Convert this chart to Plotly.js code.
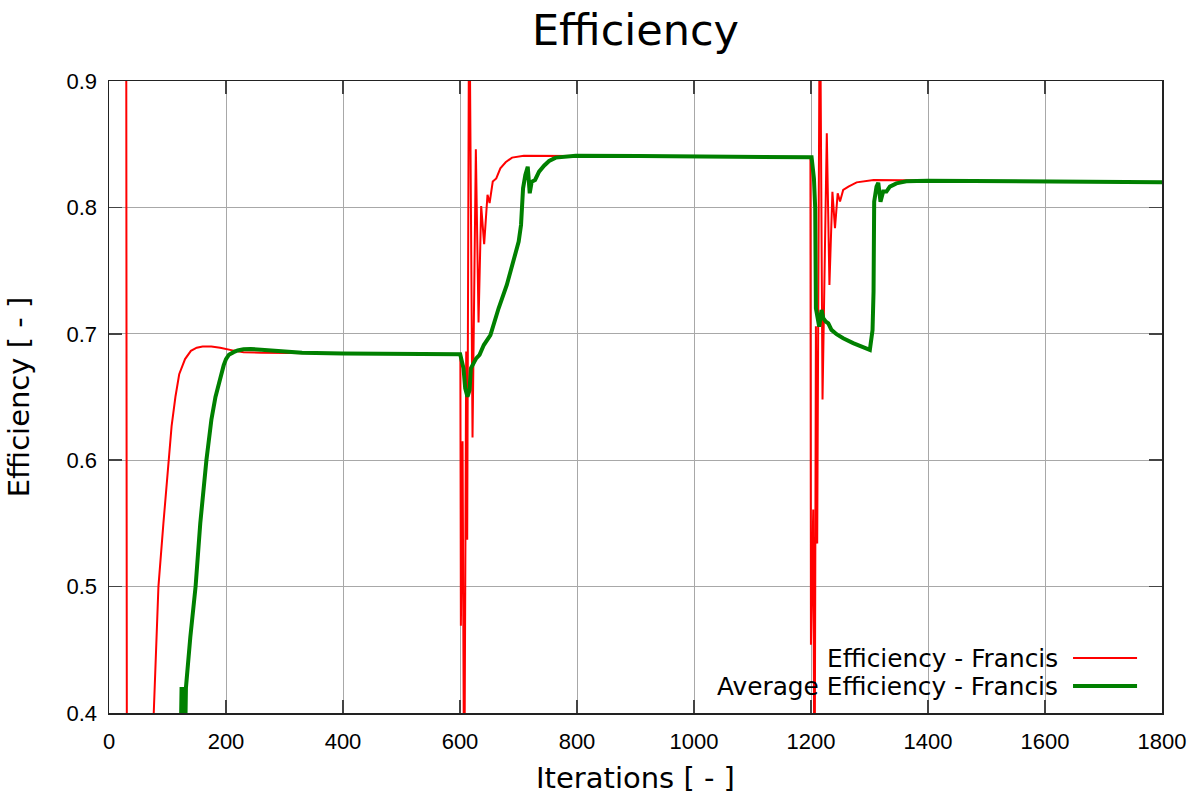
<!DOCTYPE html>
<html>
<head>
<meta charset="utf-8">
<script src="https://cdn.plot.ly/plotly-3.0.1.min.js"></script>
<style>html,body{margin:0;padding:0;background:#fff;}#chart{width:1200px;height:800px;}</style>
</head>
<body>
<div id="chart"></div>
<script>
// Efficiency - Francis (instantaneous)
const effIter = [1, 29, 31, 72, 76.5, 80, 84.5, 93, 102, 107, 113.5, 120, 130, 140, 150, 160, 175, 190, 213, 230, 260, 300, 400, 500, 600,
  600.6, 601.5, 604.4, 607.2, 610.6, 612.3, 615.7, 621.4, 627.1, 631.7, 636.2, 641.3, 647, 650.6, 656, 662, 669, 678, 689, 709, 766, 800, 900, 1000, 1100, 1199,
  1199.9, 1203.8, 1206.1, 1208.4, 1210.6, 1215.2, 1219.7, 1227, 1231.5, 1236.6, 1241, 1245.6, 1249.6, 1255, 1264, 1278, 1307, 1364, 1400, 1500, 1600, 1700, 1800];
const effVal = [1.2, 1.2, 0.1, 0.35, 0.4, 0.44, 0.5, 0.55, 0.6, 0.627, 0.65, 0.668, 0.68, 0.6865, 0.689, 0.69, 0.69, 0.689, 0.6867, 0.6855, 0.685, 0.685, 0.6845, 0.684, 0.6838,
  0.684, 0.469, 0.615, 0.30, 0.686, 0.537, 1.0, 0.618, 0.846, 0.709, 0.801, 0.771, 0.81, 0.8035, 0.8204, 0.8229, 0.8309, 0.8357, 0.8394, 0.8409, 0.8409, 0.8409, 0.8405, 0.8401, 0.8398, 0.8396,
  0.454, 0.561, 0.30, 0.706, 0.534, 1.0, 0.648, 0.8586, 0.7386, 0.8124, 0.7835, 0.8112, 0.8046, 0.8138, 0.8164, 0.8198, 0.8217, 0.8214, 0.8211, 0.8207, 0.8203, 0.820, 0.8198];

// Average Efficiency - Francis
const avgIter = [120, 124, 126, 127.5, 129.5, 131.5, 136, 139, 148, 156, 166.5, 175, 182, 187, 192, 196, 200, 205, 213, 220, 230, 242, 260, 290, 330, 400, 500, 600.3,
  606, 608.9, 612.8, 616.3, 618.6, 623.1, 627.7, 633.4, 640.7, 652, 666, 680, 691.7, 700.3, 704.3, 707.8, 711.7, 715.8, 719.2, 722.6, 728.3, 735.2, 743.7, 752.3, 763.6, 775, 797.8, 906, 1000, 1100, 1201,
  1205, 1207.2, 1208.4, 1212.4, 1214, 1218, 1221, 1225.5, 1229.6, 1235, 1243.7, 1255, 1272, 1300.6, 1305.2, 1306.9, 1308, 1312, 1315, 1318.8, 1323.4, 1329, 1334.8, 1346, 1363, 1399, 1505.5, 1600, 1700, 1800];
const avgVal = [0.3, 0.419, 0.419, 0.36, 0.36, 0.42, 0.45, 0.46, 0.5, 0.55, 0.6, 0.632, 0.65, 0.66, 0.669, 0.675, 0.68, 0.6835, 0.6855, 0.6868, 0.6878, 0.688, 0.6874, 0.6862, 0.685, 0.6845, 0.684, 0.6838,
  0.6727, 0.6569, 0.6502, 0.6555, 0.6727, 0.6767, 0.6806, 0.6833, 0.6911, 0.699, 0.7202, 0.7386, 0.757, 0.7729, 0.7861, 0.8151, 0.8256, 0.8322, 0.8112, 0.8203, 0.8217, 0.8283, 0.833, 0.8367, 0.8394, 0.8401, 0.8409, 0.8406, 0.8402, 0.8399, 0.8396,
  0.823, 0.7993, 0.7202, 0.7096, 0.7057, 0.7188, 0.7123, 0.7096, 0.7083, 0.7031, 0.6997, 0.6965, 0.6926, 0.6873, 0.703, 0.7333, 0.8045, 0.8164, 0.8195, 0.8045, 0.8125, 0.8125, 0.8164, 0.819, 0.8206, 0.8211, 0.8209, 0.8204, 0.8201, 0.8198];

const seriesNames = ['Efficiency - Francis', 'Average Efficiency - Francis'];
const xTicks = [0, 200, 400, 600, 800, 1000, 1200, 1400, 1600, 1800];
const yTicks = [0.4, 0.5, 0.6, 0.7, 0.8, 0.9];

const tickFont = {family: 'Liberation Sans, Arial, sans-serif', size: 22, color: '#000'};
const labelFont = {family: 'DejaVu Sans, sans-serif', size: 29, color: '#000'};
const legendFont = {family: 'DejaVu Sans, sans-serif', size: 24.8, color: '#000'};

const traces = [
  {x: effIter, y: effVal, name: seriesNames[0], type: 'scatter', mode: 'lines',
   line: {color: '#ff0000', width: 2}, hoverinfo: 'x+y'},
  {x: avgIter, y: avgVal, name: seriesNames[1], type: 'scatter', mode: 'lines',
   line: {color: '#008000', width: 4}, hoverinfo: 'x+y'}
];

const axisCommon = {
  showgrid: true, gridcolor: '#a8a8a8', gridwidth: 1,
  showline: true, linecolor: '#222', linewidth: 1.5, mirror: 'ticks',
  ticks: 'inside', ticklen: 13, tickwidth: 1.5, tickcolor: '#444',
  zeroline: false, tickfont: tickFont
};

const layout = {
  width: 1200, height: 800,
  paper_bgcolor: '#fff', plot_bgcolor: '#fff',
  margin: {l: 109, r: 38, t: 81, b: 87},
  showlegend: false,
  title: {text: 'Efficiency', font: {family: 'DejaVu Sans, sans-serif', size: 43, color: '#000'},
          xref: 'paper', x: 0.5, xanchor: 'center', yref: 'container', y: 0.962, yanchor: 'middle'},
  xaxis: Object.assign({}, axisCommon, {
    range: [0, 1800], tickvals: xTicks, ticktext: xTicks.map(String), ticklabelstandoff: 8,
    title: {text: 'Iterations [ - ]', font: labelFont, standoff: 15}
  }),
  yaxis: Object.assign({}, axisCommon, {
    range: [0.4, 0.9], tickvals: yTicks, ticktext: yTicks.map(v => v.toFixed(1)), ticklabelstandoff: 6,
    title: {text: 'Efficiency [ - ]', font: labelFont, standoff: 28}
  }),
  annotations: [
    {text: seriesNames[0], xref: 'paper', yref: 'paper', x: 0.9035, y: 0.087, xanchor: 'right', yanchor: 'middle',
     showarrow: false, font: legendFont},
    {text: seriesNames[1], xref: 'paper', yref: 'paper', x: 0.9035, y: 0.0427, xanchor: 'right', yanchor: 'middle',
     showarrow: false, font: legendFont}
  ],
  shapes: [
    {type: 'line', xref: 'paper', yref: 'paper', x0: 0.9155, x1: 0.9763, y0: 0.087, y1: 0.087, line: {color: '#ff0000', width: 2}},
    {type: 'line', xref: 'paper', yref: 'paper', x0: 0.9155, x1: 0.9763, y0: 0.0427, y1: 0.0427, line: {color: '#008000', width: 4}}
  ]
};

Plotly.newPlot('chart', traces, layout, {displayModeBar: false, staticPlot: true});
</script>
</body>
</html>
